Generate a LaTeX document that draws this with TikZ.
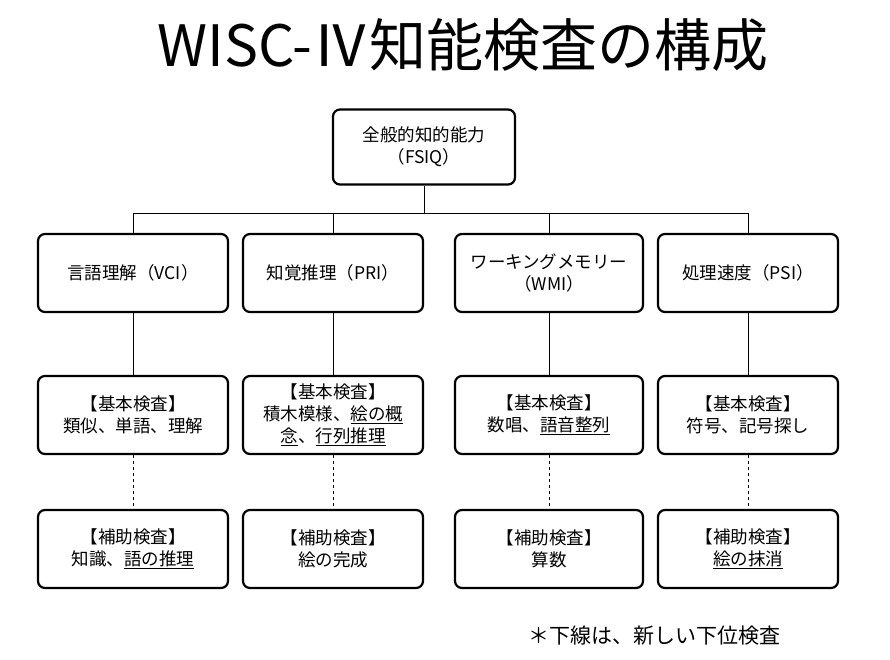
\documentclass[tikz,border=0pt]{standalone}
\usepackage{fontspec}
\setmainfont{Noto Sans CJK JP}
\usetikzlibrary{positioning}

\begin{document}
\begin{tikzpicture}[
    x=1pt, y=-1pt,
    box/.style={rectangle, rounded corners=7pt, draw=black, line width=2.2pt, fill=white, align=center, font=\fontsize{17.5}{22}\selectfont, inner sep=2pt},
    topbox/.style={box, minimum width=182pt, minimum height=75pt},
    subbox/.style={box, minimum width=188pt, minimum height=78pt},
    link/.style={draw=black, line width=0.6pt},
    aux/.style={link, dashed}
]
    \useasboundingbox (0,0) rectangle (890,659);

    % title
    \node[font=\fontsize{57}{60}\selectfont] (title) at (463,45) {WISC-Ⅳ知能検査の構成};

    % top
    \node[topbox] (fsiq) at (424,147) {全般的知的能力\\（FSIQ）};
    \coordinate (hub) at (424,213);

    % index scores
    \node[subbox, minimum width=190pt] (vci) at (133,273) {言語理解（VCI）};
    \node[subbox, minimum width=180pt] (pri) at (333,273) {知覚推理（PRI）};
    \node[subbox] (wmi) at (549,273) {ワーキングメモリー\\（WMI）};
    \node[subbox, minimum width=180pt] (psi) at (748,273) {処理速度（PSI）};

    % core subtests
    \node[subbox, minimum width=190pt] (vcicore) at (133,415) {【基本検査】\\類似、単語、理解};
    \node[subbox, minimum width=180pt] (pricore) at (333,415) {【基本検査】\\積木模様、\underline{絵の概}\\\underline{念}、\underline{行列推理}};
    \node[subbox] (wmicore) at (549,415) {【基本検査】\\数唱、\underline{語音整列}};
    \node[subbox, minimum width=180pt] (psicore) at (748,415) {【基本検査】\\符号、記号探し};

    % supplemental subtests
    \node[subbox, minimum width=190pt] (vcisup) at (133,549) {【補助検査】\\知識、\underline{語の推理}};
    \node[subbox, minimum width=180pt] (prisup) at (333,549) {【補助検査】\\絵の完成};
    \node[subbox] (wmisup) at (549,549) {【補助検査】\\算数};
    \node[subbox, minimum width=180pt] (psisup) at (748,549) {【補助検査】\\\underline{絵の抹消}};

    % connectors
    \draw[link] (fsiq) -- (hub);
    \foreach \n in {vci, pri, wmi, psi} {
        \draw[link] (hub) -| (\n);
        \draw[link] (\n) -- (\n core);
        \draw[aux] (\n core) -- (\n sup);
    }

    % note
    \node[font=\fontsize{21}{24}\selectfont, anchor=west] (note) at (525,636) {＊下線は、新しい下位検査};
\end{tikzpicture}
\end{document}
